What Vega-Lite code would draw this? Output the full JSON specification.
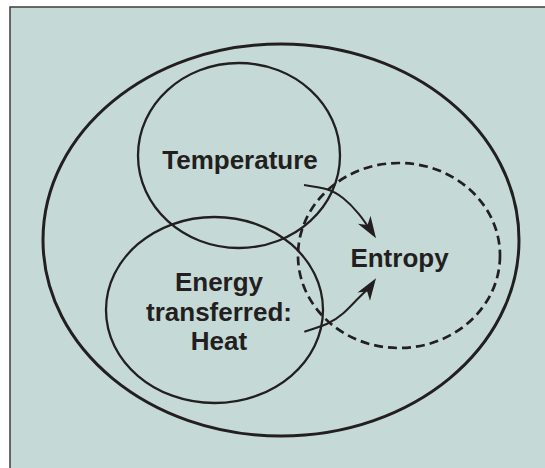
{
  "$schema": "https://vega.github.io/schema/vega-lite/v6.json",
  "width": 545,
  "height": 468,
  "autosize": {"type": "fit", "contains": "padding"},
  "padding": 0,
  "background": "white",
  "config": {"view": {"stroke": null}},
  "datasets": {
    "panel": [{"x0": 10, "y0": 7, "x1": 620, "y1": 560}],
    "ellipses": [
      {"name": "outer", "cx": 281, "cy": 240},
      {"name": "temperature", "cx": 239, "cy": 155.5},
      {"name": "energy", "cx": 214.5, "cy": 310},
      {"name": "entropy", "cx": 399, "cy": 255.5}
    ],
    "arrows": [
      {"arrow": "upper", "x": 304, "y": 185},
      {"arrow": "upper", "x": 326.7, "y": 189.3},
      {"arrow": "upper", "x": 343.3, "y": 198.3},
      {"arrow": "upper", "x": 358.3, "y": 213.3},
      {"arrow": "upper", "x": 369, "y": 228},
      {"arrow": "lower", "x": 304.3, "y": 331.7},
      {"arrow": "lower", "x": 326.7, "y": 324},
      {"arrow": "lower", "x": 343.3, "y": 313.3},
      {"arrow": "lower", "x": 358.3, "y": 298.3},
      {"arrow": "lower", "x": 369, "y": 288}
    ],
    "heads": [
      {"arrow": "upper", "x": 376, "y": 238.3, "dir": 57.6},
      {"arrow": "lower", "x": 376, "y": 278.3, "dir": 303.8}
    ],
    "labels": [
      {"label": "Temperature", "x": 240, "y": 169},
      {"label": "Entropy", "x": 399.5, "y": 267},
      {"label": "Energy\ntransferred:\nHeat", "x": 219, "y": 291}
    ]
  },
  "layer": [
    {
      "data": {"name": "panel"},
      "mark": {"type": "rect", "fill": "#c5dad6", "stroke": "#3d3d3d", "strokeWidth": 1.5, "clip": true},
      "encoding": {
        "x": {"field": "x0", "type": "quantitative", "scale": {"domain": [0, 545], "nice": false, "zero": false}, "axis": null},
        "x2": {"field": "x1"},
        "y": {"field": "y0", "type": "quantitative", "scale": {"domain": [0, 468], "nice": false, "zero": false, "reverse": true}, "axis": null},
        "y2": {"field": "y1"}
      }
    },
    {
      "data": {"name": "ellipses"},
      "transform": [{"filter": "datum.name === 'outer'"}],
      "mark": {"type": "point", "filled": false, "opacity": 1, "stroke": "#231f20", "strokeWidth": 3,
        "size": 226576,
        "shape": "M1,0 C1,0.4548 0.5523,0.8235 0,0.8235 C-0.5523,0.8235 -1,0.4548 -1,0 C-1,-0.4548 -0.5523,-0.8235 0,-0.8235 C0.5523,-0.8235 1,-0.4548 1,0 Z"},
      "encoding": {
        "x": {"field": "cx", "type": "quantitative", "axis": null},
        "y": {"field": "cy", "type": "quantitative", "axis": null}
      }
    },
    {
      "data": {"name": "ellipses"},
      "transform": [{"filter": "datum.name === 'temperature'"}],
      "mark": {"type": "point", "filled": false, "opacity": 1, "stroke": "#231f20", "strokeWidth": 2.3,
        "size": 40804,
        "shape": "M1,0 C1,0.5058 0.5523,0.9158 0,0.9158 C-0.5523,0.9158 -1,0.5058 -1,0 C-1,-0.5058 -0.5523,-0.9158 0,-0.9158 C0.5523,-0.9158 1,-0.5058 1,0 Z"},
      "encoding": {
        "x": {"field": "cx", "type": "quantitative", "axis": null},
        "y": {"field": "cy", "type": "quantitative", "axis": null}
      }
    },
    {
      "data": {"name": "ellipses"},
      "transform": [{"filter": "datum.name === 'energy'"}],
      "mark": {"type": "point", "filled": false, "opacity": 1, "stroke": "#231f20", "strokeWidth": 2.3,
        "size": 47089,
        "shape": "M1,0 C1,0.4734 0.5523,0.8571 0,0.8571 C-0.5523,0.8571 -1,0.4734 -1,0 C-1,-0.4734 -0.5523,-0.8571 0,-0.8571 C0.5523,-0.8571 1,-0.4734 1,0 Z"},
      "encoding": {
        "x": {"field": "cx", "type": "quantitative", "axis": null},
        "y": {"field": "cy", "type": "quantitative", "axis": null}
      }
    },
    {
      "data": {"name": "ellipses"},
      "transform": [{"filter": "datum.name === 'entropy'"}],
      "mark": {"type": "point", "filled": false, "opacity": 1, "stroke": "#231f20", "strokeWidth": 2.7,
        "strokeDash": [9, 5],
        "size": 40804,
        "shape": "M1,0 C1,0.5058 0.5523,0.9158 0,0.9158 C-0.5523,0.9158 -1,0.5058 -1,0 C-1,-0.5058 -0.5523,-0.9158 0,-0.9158 C0.5523,-0.9158 1,-0.5058 1,0 Z"},
      "encoding": {
        "x": {"field": "cx", "type": "quantitative", "axis": null},
        "y": {"field": "cy", "type": "quantitative", "axis": null}
      }
    },
    {
      "data": {"name": "arrows"},
      "mark": {"type": "line", "interpolate": "natural", "color": "#231f20", "strokeWidth": 2},
      "encoding": {
        "x": {"field": "x", "type": "quantitative", "axis": null},
        "y": {"field": "y", "type": "quantitative", "axis": null},
        "detail": {"field": "arrow"}
      }
    },
    {
      "data": {"name": "heads"},
      "mark": {"type": "point", "filled": true, "opacity": 1, "color": "#231f20", "strokeWidth": 0,
        "size": 1936,
        "shape": "M0,0 L-1,-0.34 L-0.72,0 L-1,0.34 Z"},
      "encoding": {
        "x": {"field": "x", "type": "quantitative", "axis": null},
        "y": {"field": "y", "type": "quantitative", "axis": null},
        "angle": {"field": "dir", "type": "quantitative", "scale": null}
      }
    },
    {
      "data": {"name": "labels"},
      "mark": {"type": "text", "font": "Liberation Sans", "fontWeight": "bold", "fontSize": 26,
        "color": "#231f20", "align": "center", "baseline": "alphabetic", "lineBreak": "\n", "lineHeight": 29.5},
      "encoding": {
        "x": {"field": "x", "type": "quantitative", "axis": null},
        "y": {"field": "y", "type": "quantitative", "axis": null},
        "text": {"field": "label"}
      }
    }
  ]
}
